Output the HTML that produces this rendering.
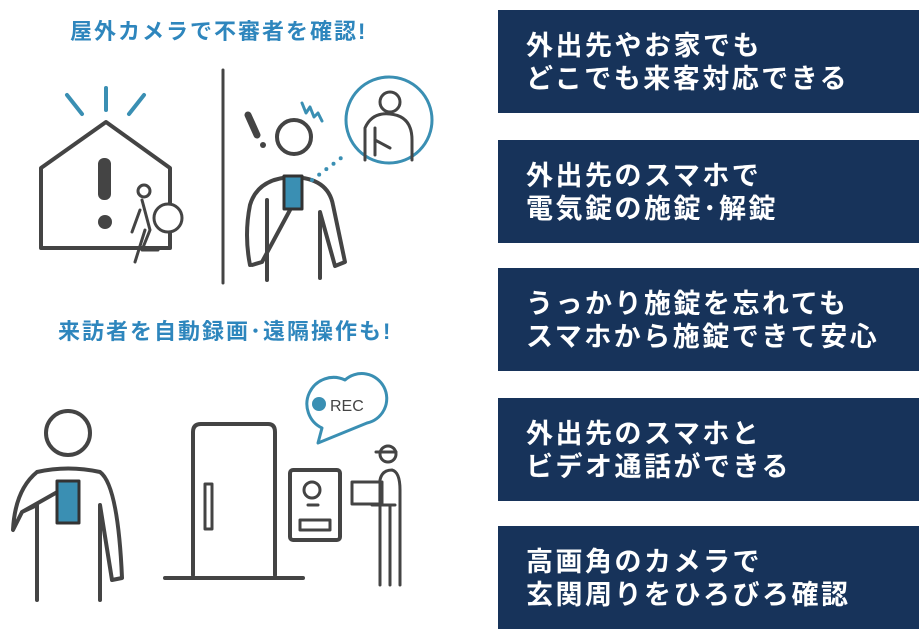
<!DOCTYPE html>
<html><head><meta charset="utf-8"><style>
body{margin:0;width:920px;height:640px;background:#fff;overflow:hidden;position:relative;font-family:"Liberation Sans","Noto Sans CJK JP",sans-serif}
.t{position:absolute;color:#2e86bd;font-weight:bold;font-size:22px;letter-spacing:2px;white-space:nowrap}
.b{position:absolute;left:498px;width:421px;height:103px;background:#17335a;color:#fff;font-weight:bold;font-size:27px;letter-spacing:2.5px;line-height:33px;box-sizing:border-box;padding:20px 0 0 28px;white-space:nowrap}
svg{position:absolute;left:0;top:0}
</style></head><body>
<div class="t" style="left:70px;top:14px">屋外カメラで不審者を確認!</div>
<div class="t" style="left:58px;top:314px">来訪者を自動録画･遠隔操作も!</div>
<div class="b" style="top:10px">外出先やお家でも<br>どこでも来客対応できる</div>
<div class="b" style="top:140px">外出先のスマホで<br>電気錠の施錠･解錠</div>
<div class="b" style="top:268px">うっかり施錠を忘れても<br>スマホから施錠できて安心</div>
<div class="b" style="top:398px">外出先のスマホと<br>ビデオ通話ができる</div>
<div class="b" style="top:526px">高画角のカメラで<br>玄関周りをひろびろ確認</div>
<svg width="480" height="640" viewBox="0 0 480 640" fill="none" stroke="#444" stroke-width="4" stroke-linecap="round" stroke-linejoin="round">
<g stroke="#3a8fb3"><line x1="67" y1="95" x2="82" y2="114"/><line x1="106" y1="88" x2="106" y2="110"/><line x1="144" y1="95" x2="129" y2="114"/></g>
<path d="M41 168 L106 122 L170 168 L170 248 L41 248 Z"/>
<rect x="98" y="158" width="13" height="42" rx="6" fill="#444" stroke="none"/>
<circle cx="105" cy="222" r="7" fill="#444" stroke="none"/>
<g stroke-width="3"><circle cx="144" cy="191" r="6"/><circle cx="168" cy="218" r="14" fill="#fff"/><path d="M142 200 L150 230 L142 250 L158 250 M140 210 L132 232 M145 230 L135 262"/></g>
<line x1="223" y1="70" x2="223" y2="283" stroke-width="3"/>
<line x1="248" y1="115" x2="257" y2="135" stroke-width="7"/><circle cx="263" cy="145" r="3" fill="#444" stroke="none"/>
<path d="M302 103 l4 10 l4-6 l4 10 l4-4 l4 8" stroke="#3a8fb3" stroke-width="3"/>
<circle cx="294" cy="137" r="17"/>
<path d="M250 265 Q244 235 250 205 Q258 178 293 177 Q328 178 333 205 L345 262 L335 266 L320 212 L320 278 M267 200 L267 280 M252 265 L262 262 L290 210"/>
<rect x="284" y="176" width="18" height="33" fill="#3a8fb3" stroke="#333" stroke-width="3"/>
<circle cx="389" cy="120" r="43" stroke="#3a8fb3" stroke-width="3"/>
<g stroke-width="3"><circle cx="390" cy="102" r="10"/><path d="M365 160 L365 128 Q372 112 390 114 Q412 116 412 140 L412 160 M375 128 L375 155 M375 140 L390 148"/></g>
<path d="M312 180 L345 155" stroke="#3a8fb3" stroke-width="4" stroke-dasharray="0 9"/>
<circle cx="68" cy="433" r="22"/>
<path d="M37 600 L37 505 L22 512 L13 530 Q15 490 37 472 Q68 465 100 472 Q118 485 122 578 L112 580 L100 505 L100 600 M22 512 L75 482"/>
<rect x="57" y="481" width="22" height="42" fill="#3a8fb3" stroke="#333" stroke-width="3"/>
<path d="M193 575 L193 432 Q193 424 201 424 L268 424 Q275 424 275 432 L275 575"/>
<rect x="205" y="484" width="7" height="45" stroke-width="3"/>
<line x1="165" y1="578" x2="303" y2="578"/>
<rect x="290" y="470" width="50" height="70" rx="3"/>
<circle cx="312" cy="490" r="8" stroke-width="3"/><line x1="308" y1="505" x2="318" y2="505" stroke-width="3"/>
<rect x="300" y="520" width="30" height="10" stroke-width="3"/>
<path d="M345 380 a25 25 0 1 1 22 43 L318 443 L322 428 a25 25 0 0 1 23 -48 Z" stroke="#3a8fb3" stroke-width="3"/>
<circle cx="319" cy="404" r="7" fill="#3a8fb3" stroke="none"/>
<text x="330" y="411" font-size="16" fill="#444" stroke="none" font-family="Liberation Sans">REC</text>
<g stroke-width="3"><circle cx="388" cy="454" r="8"/><path d="M376 452 L396 452 M380 585 L380 480 Q382 470 392 470 Q400 472 400 490 L400 585 M390 505 L390 585 M372 505 L395 505"/><rect x="352" y="482" width="30" height="22"/></g>
</svg>
</body></html>
